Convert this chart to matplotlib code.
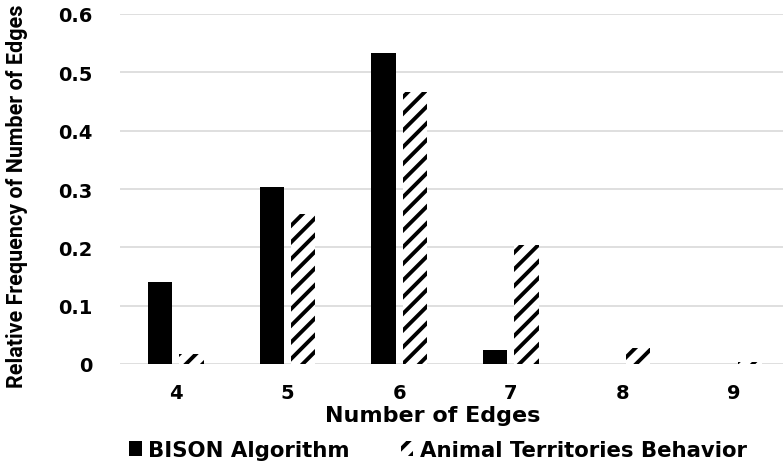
import numpy as np
import matplotlib
matplotlib.use("Agg")
import matplotlib.pyplot as plt

# values
edges = ["4", "5", "6", "7", "8", "9"]
bison = [0.14, 0.303, 0.533, 0.024, 0.0, 0.0]
animal = [0.017, 0.257, 0.466, 0.204, 0.027, 0.004]
yticks = [0, 0.1, 0.2, 0.3, 0.4, 0.5, 0.6]
ytick_labels = ["0", "0.1", "0.2", "0.3", "0.4", "0.5", "0.6"]

plt.rcParams["font.family"] = ["DejaVu Sans"]
plt.rcParams["font.weight"] = "bold"
plt.rcParams["hatch.linewidth"] = 2.8

fig = plt.figure(figsize=(7.83, 4.64), dpi=100)
ax = fig.add_axes([120 / 783, 99 / 464, 670 / 783, 350 / 464])

x = np.arange(len(edges))
w = 0.22
off = 0.14
ax.bar(x - off, bison, w, color="black", linewidth=0, label="BISON Algorithm", zorder=3)
ax.bar(x + off, animal, w, color="white", edgecolor="black", hatch="//",
       linewidth=0, label="Animal Territories Behavior", zorder=3)

ax.set_xlim(-0.5, len(edges) - 0.5)
ax.set_ylim(0, 0.6)
ax.set_xticks(x, edges)
ax.set_yticks(yticks, ytick_labels)
ax.tick_params(length=0, labelsize=14)
ax.tick_params(axis="y", pad=20)
ax.tick_params(axis="x", pad=14)
ax.yaxis.grid(True, color="#d9d9d9", lw=1.2, zorder=0)
ax.set_axisbelow(True)
for s in ax.spines.values():
    s.set_visible(False)

ax.set_xlabel("Number of Edges", fontsize=16, fontweight="bold")
ax.xaxis.set_label_coords(313 / 670, -41 / 350)
ax.set_ylabel("Relative Frequency of Number of Edges", fontsize=15.5, fontweight="bold",
              family=["Roboto", "DejaVu Sans"])
ax.yaxis.set_label_coords(-92 / 670, 0.483)

fig.legend(*ax.get_legend_handles_labels(), loc="center", bbox_to_anchor=(438 / 783, 13 / 464),
           ncol=2, frameon=False, fontsize=15.3, handlelength=0.6, handleheight=0.7,
           handletextpad=0.3, columnspacing=2.4, borderaxespad=0, borderpad=0)

fig.savefig("out.png", dpi=100)
